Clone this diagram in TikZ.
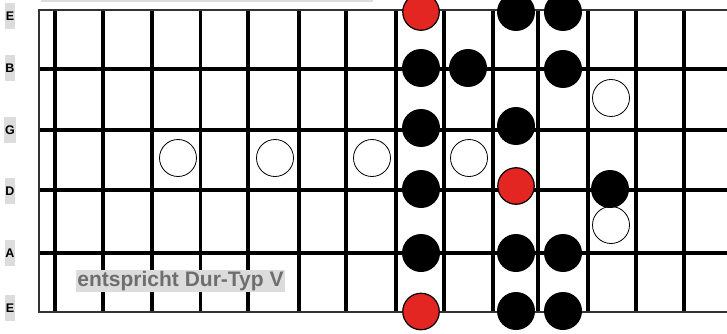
\documentclass[tikz,border=0pt]{standalone}
\usepackage{fontspec}
\setmainfont{Liberation Sans}
\usetikzlibrary{positioning}
\definecolor{rootred}{HTML}{E32622}
\definecolor{boxgray}{HTML}{DCDCDC}
\definecolor{textgray}{HTML}{6E6E6E}

\begin{document}
\begin{tikzpicture}[x=1pt,y=-1pt,
  fulldot/.style={circle,fill=black,minimum size=38pt,inner sep=0pt},
  rootdot/.style={circle,draw=black,line width=1.2pt,fill=rootred,minimum size=36.5pt,inner sep=0pt},
  opendot/.style={circle,draw=black,line width=0.8pt,fill=white,minimum size=37pt,inner sep=0pt},
  stringlabel/.style={fill=boxgray,inner xsep=0.8pt,inner ysep=0pt,minimum height=26pt,
    font=\bfseries\fontsize{12.5}{12.5}\selectfont},
  fretline/.style={line width=3.4pt}]
  \clip (0,0) rectangle (727,334);
  \useasboundingbox (0,0) rectangle (727,334);

  \fill[boxgray] (41,0) rectangle (373,2.5);

  \foreach \x in {55,103,152,200.5,248,299,346,396,444,493,538,588,636,684} {
    \draw[fretline] (\x,10) -- (\x,312);
  }
  \foreach \y in {69,130,190,253} {
    \draw[fretline] (39,\y) -- (727,\y);
  }
  \draw[line width=1.3pt,black!80] (727,10) -- (39,10) -- (39,312) -- (727,312);

  \foreach \n/\y/\s in {1/16/E,2/68/B,3/130/G,4/191/D,5/253/A,6/308/E} {
    \node[stringlabel] (str\n) at (10,\y) {\s};
  }

  \foreach \n/\x/\y in {1/178/158,2/275/158,3/372/158,4/469/158,5/611/98,6/611/225} {
    \node[opendot] (open\n) at (\x,\y) {};
  }
  \foreach \n/\x/\y in {1/516/12,2/563/12,3/421/68,4/468/68,5/563/69,6/421/128,7/516/126,
                        8/421/189,9/610/189,10/421/253,11/516/253,12/563/253,13/516/311,14/563/311} {
    \node[fulldot] (full\n) at (\x,\y) {};
  }
  \foreach \n/\x/\y in {1/421/12,2/516/186,3/421/311.5} {
    \node[rootdot] (root\n) at (\x,\y) {};
  }

  \node[fill=boxgray,text=textgray,inner xsep=1pt,inner ysep=1.3pt,
    font=\bfseries\fontsize{21}{21}\selectfont] (typ) at (180.5,281) {entspricht Dur-Typ V};
\end{tikzpicture}
\end{document}
